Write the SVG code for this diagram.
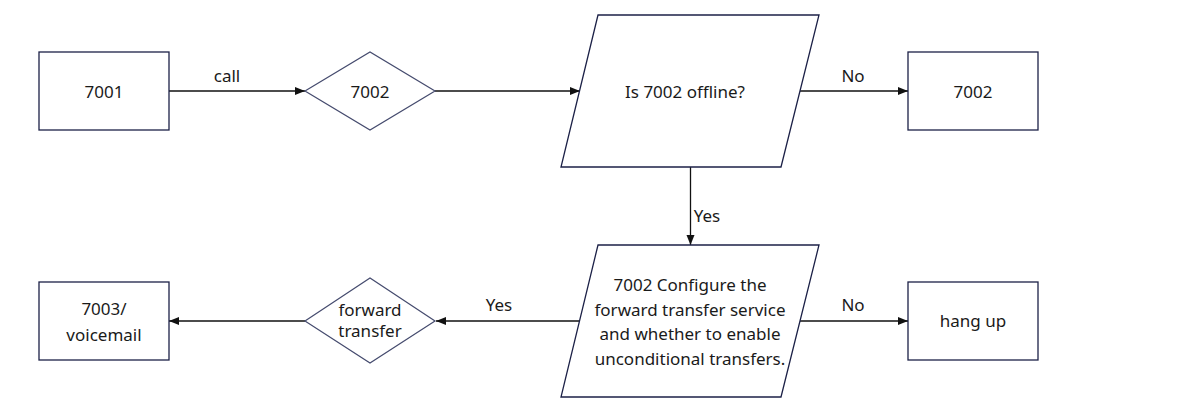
<svg xmlns="http://www.w3.org/2000/svg" width="1194" height="416" viewBox="0 0 1194 416">
<defs>
<marker id="ah" viewBox="0 0 10 10" refX="10" refY="5" markerWidth="10" markerHeight="10" markerUnits="userSpaceOnUse" orient="auto">
<path d="M0,1 L10,5 L0,9 Z" fill="#111"/>
</marker>
<style>
.n{fill:#fff;stroke:#1c2147;stroke-width:1.3}
.d{fill:#fff;stroke:#454b6e;stroke-width:1.2}
.t{font-family:"Noto Sans","Liberation Sans",sans-serif;font-size:17px;fill:#1a1a1a;text-anchor:middle}
.c{stroke:#111;stroke-width:1.3;fill:none;marker-end:url(#ah)}
</style>
</defs>
<rect width="1194" height="416" fill="#fff"/>
<g id="connectors">
<path class="c" d="M169,91 L305,91"/>
<path class="c" d="M435,91 L580,91"/>
<path class="c" d="M800,91 L908,91"/>
<path class="c" d="M690.5,167 L690.5,245"/>
<path class="c" d="M579.5,321 L436,321"/>
<path class="c" d="M305,321 L169,321"/>
<path class="c" d="M800,321 L908,321"/>
<text class="t" x="227" y="82">call</text>
<text class="t" x="853" y="82">No</text>
<text class="t" x="707" y="222">Yes</text>
<text class="t" x="499" y="311">Yes</text>
<text class="t" x="853" y="311">No</text>
</g>
<g id="n7001"><rect class="n" x="39" y="52" width="130" height="78"/><text class="t" x="104" y="98">7001</text></g>
<g id="d7002"><path class="d" d="M305,91 L370,52 L435,91 L370,130 Z"/><text class="t" x="370" y="98">7002</text></g>
<g id="offline"><path class="n" d="M598,15 L819,15 L781,167 L561,167 Z"/><text class="t" x="685" y="98">Is 7002 offline?</text></g>
<g id="n7002b"><rect class="n" x="908" y="52" width="130" height="78"/><text class="t" x="973" y="98">7002</text></g>
<g id="config"><path class="n" d="M598,245 L819,245 L781,397 L561,397 Z"/>
<text class="t" x="690"><tspan x="690" y="291">7002 Configure the</tspan><tspan x="690" y="315.5">forward transfer service</tspan><tspan x="690" y="340">and whether to enable</tspan><tspan x="690" y="364.5">unconditional transfers.</tspan></text></g>
<g id="fwd"><path class="d" d="M305,321 L370,278 L435,321 L370,363 Z"/><text class="t" x="370"><tspan x="370" y="316">forward</tspan><tspan x="370" y="337">transfer</tspan></text></g>
<g id="vm"><rect class="n" x="39" y="282" width="130" height="78"/><text class="t" x="104"><tspan x="104" y="315">7003/</tspan><tspan x="104" y="341">voicemail</tspan></text></g>
<g id="hang"><rect class="n" x="908" y="282" width="130" height="78"/><text class="t" x="973" y="327">hang up</text></g>
</svg>
